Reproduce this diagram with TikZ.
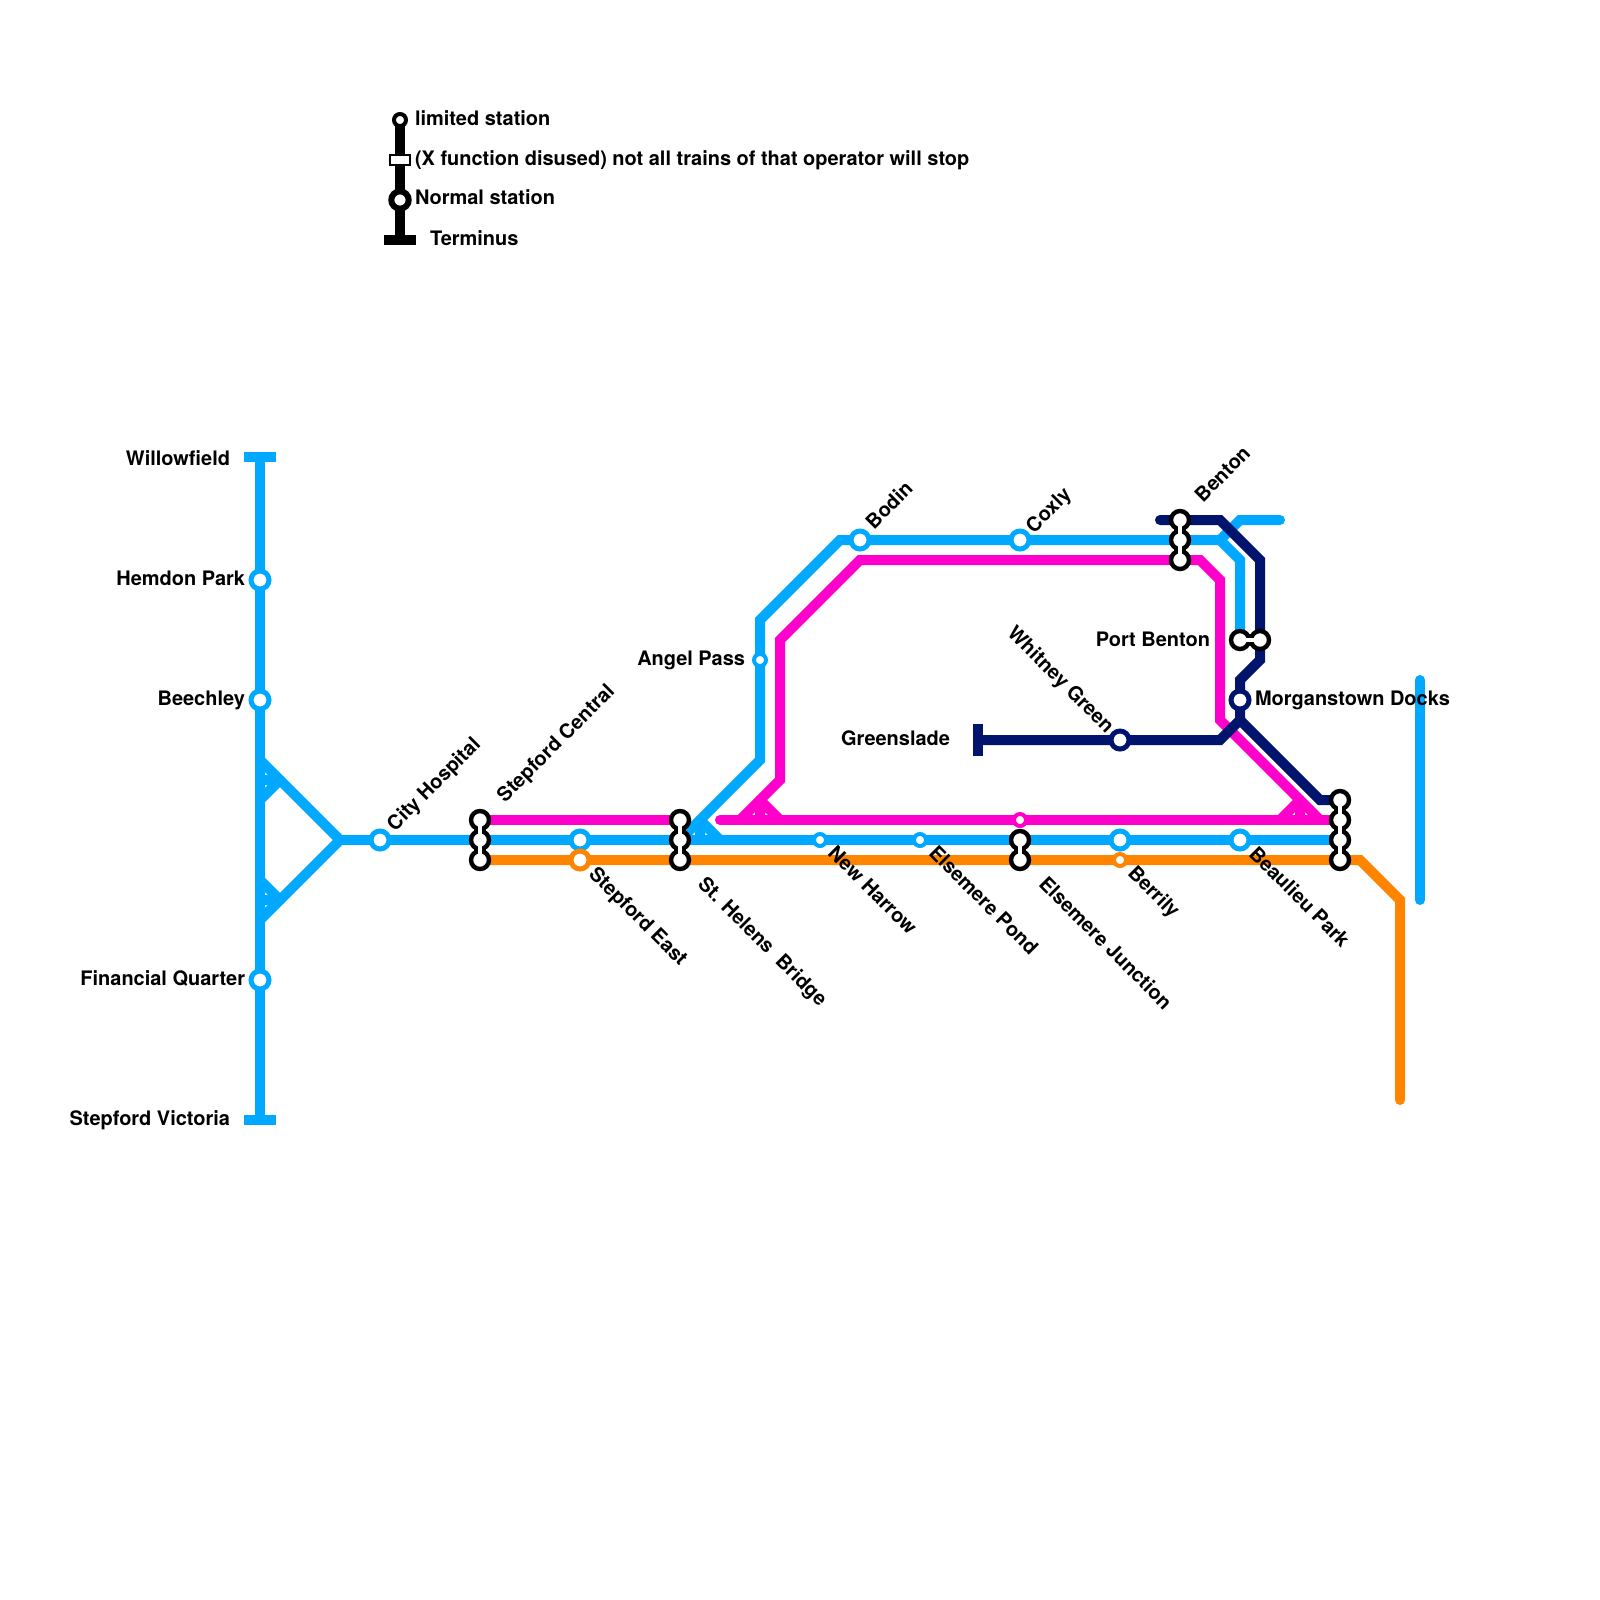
\documentclass[tikz,border=0pt]{standalone}
\usepackage{fontspec}
\setmainfont{TeX Gyre Heros}
\usetikzlibrary{backgrounds}
\definecolor{lblue}{HTML}{00A9FF}
\definecolor{lpink}{HTML}{FF00CC}
\definecolor{lnavy}{HTML}{00146E}
\definecolor{lorange}{HTML}{FF8500}
\tikzset{ln/.style={line width=.25cm,line cap=round,line join=miter,miter limit=10},
  stn/.style={circle,draw=#1,fill=white,line width=.125cm,minimum size=.45cm,inner sep=0,outer sep=0},
  lim/.style={circle,draw=#1,fill=white,line width=.1cm,minimum size=.3cm,inner sep=0,outer sep=0},
  ix/.style={stn=black,line width=.11cm},
  term/.style={rectangle,fill=#1,minimum width=.8cm,minimum height=.27cm,inner sep=0,outer sep=0},
  txt/.style={font=\fontsize{14.2}{16}\selectfont\bfseries,text height=.36cm,text depth=0pt,inner sep=0,outer sep=0}}

\begin{document}
\begin{tikzpicture}[x=.025cm,y=-.025cm]
  \useasboundingbox (0,0) rectangle (1600,1600);
  \node[term=lblue] (willow) at (260,457) {};
  \node[term=lblue] (vict) at (260,1120) {};
  \node[term=lnavy,minimum width=.27cm,minimum height=.8cm] (green) at (978,740) {};
  \node[term=black] (kterm) at (400,240) {};
  \foreach \n/\p in {hemdon/{260,580},beech/{260,700},fin/{260,980},city/{380,840},sepe/{580,840},bodin/{860,540},coxly/{1020,540},berry/{1120,840},beau/{1240,840}}{\node[stn=lblue] (\n) at (\p) {};}
  \node[stn=lorange] (sepo) at (580,860) {};
  \node[stn=lnavy] (whit) at (1120,740) {};
  \node[stn=lnavy] (morg) at (1240,700) {};
  \foreach \n/\p in {angel/{760,660},newh/{820,840},pond/{920,840}}{\node[lim=lblue] (\n) at (\p) {};}
  \node[lim=lpink] (ejp) at (1020,820) {};
  \node[lim=lorange] (bero) at (1120,860) {};
  \node[lim=black] (klim) at (400,120) {};
  \node[rectangle,draw=black,fill=white,line width=.05cm,minimum width=.48cm,minimum height=.25cm,inner sep=0,outer sep=0] (kdis) at (400,160) {};
  \node[stn=black,minimum size=.435cm,line width=.15cm] (knorm) at (400,200) {};
  \foreach \n/\p in {sca/{480,820},scb/{480,840},scc/{480,860},sha/{680,820},shb/{680,840},shc/{680,860},eja/{1020,840},ejb/{1020,860},bea/{1180,520},beb/{1180,540},bec/{1180,560},pba/{1240,640},pbb/{1260,640},mda/{1340,800},mdb/{1340,820},mdc/{1340,840},mdd/{1340,860}}{\node[ix] (\n) at (\p) {};}
  \begin{scope}[on background layer]
    \draw[ln,black] (klim.center)--(kterm.center);
    \draw[ln,lorange] (scc.center)--(mdd.center)--(1360,860)--(1400,900)--(1400,1100);
    \draw[ln,lpink] (sca.center)--(sha.center);
    \draw[ln,lpink] (720,820)--(mdb.center);
    \draw[ln,lpink] (740,820)--(780,780)--(780,640)--(860,560)--(1200,560)--(1220,580)--(1220,720)--(1320,820);
    \draw[ln,lpink] (760,800)--(780,820) (760,800)--(760,820);
    \draw[ln,lpink] (1300,800)--(1280,820) (1300,800)--(1300,820);
    \draw[ln,lblue] (willow.center)--(vict.center);
    \draw[ln,lblue] (260,760)--(340,840)--(260,920);
    \draw[ln,lblue] (280,780)--(260,800) (260,780)--(280,780);
    \draw[ln,lblue] (260,880)--(280,900) (260,900)--(280,900);
    \draw[ln,lblue] (340,840)--(mdc.center);
    \draw[ln,lblue] (680,840)--(760,760)--(760,620)--(840,540)--(1220,540)--(1240,560)--(pba.center);
    \draw[ln,lblue] (700,820)--(720,840) (700,820)--(700,840);
    \draw[ln,lblue] (1220,540)--(1240,520)--(1280,520);
    \draw[ln,lblue] (1420,680)--(1420,900);
    \draw[ln,lnavy] (1160,520)--(1220,520)--(1260,560)--(1260,660)--(1240,680)--(1240,720)--(1220,740)--(green.center);
    \draw[ln,lnavy] (1240,720)--(1320,800)--(mda.center);
    \foreach \a/\b in {sca/scc,sha/shc,eja/ejb,bea/bec,pba/pbb,mda/mdd}{\draw[black,line width=.3cm] (\a.center)--(\b.center);}
  \end{scope}
  \foreach \a/\b in {sca/scc,sha/shc,eja/ejb,bea/bec,pba/pbb,mda/mdd}{\draw[white,line width=.11cm] (\a.center)--(\b.center);}
  \foreach \n/\p/\tx in {twill/{230,458}/Willowfield,them/{245,578}/Hemdon Park,tbee/{245,698}/Beechley,tfin/{245,978}/Financial Quarter,tvic/{230,1118}/Stepford Victoria,tgre/{950,738}/Greenslade,tang/{745,658}/Angel Pass,tpor/{1210,639}/Port Benton}{\node[txt,anchor=east] (\n) at (\p) {\tx};}
  \foreach \n/\p/\tx in {tmor/{1255,698}/Morganstown Docks,klima/{415,118}/limited station,kdisa/{415,158}/(X function disused) not all trains of that operator will stop,knora/{415,197}/Normal station,kter/{430,238}/Terminus}{\node[txt,anchor=west] (\n) at (\p) {\tx};}
  \foreach \n/\p/\tx in {tcit/{390,827}/City Hospital,tsc/{500,798}/Stepford Central,tbod/{869,525}/Bodin,tcox/{1029,529}/Coxly,tben/{1198,498}/Benton}{\node[txt,anchor=west,rotate=45] (\n) at (\p) {\tx};}
  \foreach \n/\p/\tx in {tse/{593,870}/Stepford East,tsh/{702,880}/St. Helens\ \ Bridge,tnew/{832,849}/New Harrow,tpon/{933,849}/Elsemere Pond,tej/{1043,880}/Elsemere Junction,tber/{1132,869}/Berrily,tbea/{1253,850}/Beaulieu Park}{\node[txt,anchor=west,rotate=-45] (\n) at (\p) {\tx};}
  \node[txt,anchor=east,rotate=-45] (twhi) at (1111,729) {Whitney Green};
\end{tikzpicture}
\end{document}
